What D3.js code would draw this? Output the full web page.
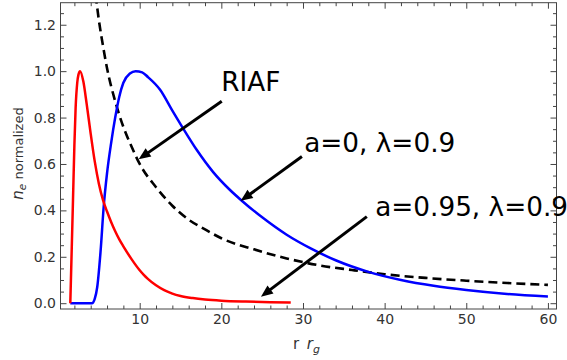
<!DOCTYPE html>
<html>
<head>
<meta charset="utf-8">
<script src="https://cdn.jsdelivr.net/npm/d3@7"></script>
<style>
  body { margin: 0; background: #fff; }
  svg { display: block; }
</style>
</head>
<body>
<div id="chart"></div>
<script>
// electron density profiles, n_e normalized to peak, vs radius in r_g
const riafR  = [4.6, 5.0, 5.5, 6.0, 7.0, 8.0, 9.0, 10, 12, 14, 16, 18, 20, 24, 28, 32, 36, 40, 45, 50, 55, 60]
const riafNe = [1.33, 1.22, 1.11, 1.013, 0.87, 0.76, 0.675, 0.60, 0.50, 0.42, 0.36, 0.318, 0.28, 0.232, 0.193, 0.163, 0.143, 0.125, 0.109, 0.097, 0.087, 0.079]

const spin0R  = [1.5, 4.15, 4.5, 4.8, 5.2, 5.6, 6.0, 6.5, 7.0, 7.5, 8.0, 8.8, 9.5, 10.3, 11, 12.5, 14, 15.2, 17, 19, 21, 22.4, 25, 28, 31, 34, 38, 42, 46, 50, 55, 60]
const spin0Ne = [0, 0, 0.02, 0.07, 0.22, 0.42, 0.56, 0.69, 0.8, 0.89, 0.95, 0.99, 1.0, 0.995, 0.975, 0.92, 0.83, 0.76, 0.66, 0.565, 0.49, 0.445, 0.37, 0.295, 0.235, 0.185, 0.135, 0.1, 0.075, 0.057, 0.04, 0.029]

const spin95R  = [1.5, 1.65, 1.83, 2.0, 2.15, 2.35, 2.5, 2.7, 3.1, 3.5, 4.0, 4.5, 5.0, 5.5, 6.0, 6.5, 7.0, 7.5, 8.0, 9.0, 10, 10.5, 11, 12, 13, 14, 15, 16.5, 18, 20, 23, 26, 28.5]
const spin95Ne = [0, 0.2, 0.445, 0.68, 0.84, 0.95, 0.985, 1.0, 0.955, 0.86, 0.73, 0.61, 0.515, 0.445, 0.395, 0.35, 0.31, 0.275, 0.245, 0.19, 0.142, 0.122, 0.105, 0.077, 0.056, 0.041, 0.031, 0.022, 0.016, 0.011, 0.007, 0.0045, 0.003]

const xMajor = [10, 20, 30, 40, 50, 60]
const yMajor = [0, 0.2, 0.4, 0.6, 0.8, 1.0, 1.2]

// callouts: label text, where the label sits, arrow tail and tip (data coords)
const callouts = [
  { text: 'RIAF',           at: [20.0, 0.913],  from: [20.05, 0.87],  to: [9.87, 0.62] },
  { text: 'a=0, λ=0.9',     at: [30.15, 0.653], from: [29.87, 0.632], to: [22.37, 0.441] },
  { text: 'a=0.95, λ=0.9',  at: [38.84, 0.376], from: [37.82, 0.373], to: [24.85, 0.028] }
]

const width = 567, height = 360
const font = '"DejaVu Sans", sans-serif'

const x = d3.scaleLinear().domain([0.3, 61.05]).range([60.5, 556.5])
const y = d3.scaleLinear().domain([-0.025, 1.295]).range([309, 2.7])

const [x0, x1] = x.range()
const [y0, y1] = y.range()

const svg = d3.select('#chart').append('svg')
  .attr('width', width)
  .attr('height', height)

svg.append('defs').append('clipPath').attr('id', 'plotClip')
  .append('rect')
    .attr('x', x0).attr('y', y1)
    .attr('width', x1 - x0).attr('height', y0 - y1)

// ticks all point inward, labels only on bottom and left
const xMinor = d3.range(2, 61, 2).filter(d => d % 10 !== 0)
const yMinor = d3.range(0, 1.26, 0.05).filter(d => Math.abs(d * 5 - Math.round(d * 5)) > 1e-6)

function styleAxis(g) {
  g.select('.domain').remove()
  g.selectAll('line').attr('stroke', '#444')
  g.selectAll('text')
    .attr('font-family', font)
    .attr('font-size', 14)
    .attr('fill', '#333')
}

svg.append('g').attr('transform', `translate(0,${y0})`)
  .call(d3.axisBottom(x).tickValues(xMajor).tickSize(-6).tickPadding(5).tickFormat(d3.format('d')))
  .call(styleAxis)
svg.append('g').attr('transform', `translate(0,${y0})`)
  .call(d3.axisBottom(x).tickValues(xMinor).tickSize(-3.5).tickFormat(''))
  .call(styleAxis)
svg.append('g').attr('transform', `translate(0,${y1})`)
  .call(d3.axisTop(x).tickValues(xMajor).tickSize(-6).tickFormat(''))
  .call(styleAxis)
svg.append('g').attr('transform', `translate(0,${y1})`)
  .call(d3.axisTop(x).tickValues(xMinor).tickSize(-3.5).tickFormat(''))
  .call(styleAxis)

svg.append('g').attr('transform', `translate(${x0},0)`)
  .call(d3.axisLeft(y).tickValues(yMajor).tickSize(-6).tickPadding(4.5).tickFormat(d3.format('.1f')))
  .call(styleAxis)
svg.append('g').attr('transform', `translate(${x0},0)`)
  .call(d3.axisLeft(y).tickValues(yMinor).tickSize(-3.5).tickFormat(''))
  .call(styleAxis)
svg.append('g').attr('transform', `translate(${x1},0)`)
  .call(d3.axisRight(y).tickValues(yMajor).tickSize(-6).tickFormat(''))
  .call(styleAxis)
svg.append('g').attr('transform', `translate(${x1},0)`)
  .call(d3.axisRight(y).tickValues(yMinor).tickSize(-3.5).tickFormat(''))
  .call(styleAxis)

// frame
svg.append('rect')
  .attr('x', x0).attr('y', y1)
  .attr('width', x1 - x0).attr('height', y0 - y1)
  .attr('fill', 'none')
  .attr('stroke', '#444')
  .attr('stroke-width', 1)

// curves
const line = d3.line()
  .x(d => x(d[0]))
  .y(d => y(d[1]))
  .curve(d3.curveMonotoneX)

const curves = svg.append('g').attr('clip-path', 'url(#plotClip)')

curves.append('path')
  .attr('d', line(d3.zip(riafR, riafNe)))
  .attr('fill', 'none')
  .attr('stroke', '#000')
  .attr('stroke-width', 2.6)
  .attr('stroke-dasharray', '9,5')

curves.append('path')
  .attr('d', line(d3.zip(spin0R, spin0Ne)))
  .attr('fill', 'none')
  .attr('stroke', '#0000ff')
  .attr('stroke-width', 2.5)

curves.append('path')
  .attr('d', line(d3.zip(spin95R, spin95Ne)))
  .attr('fill', 'none')
  .attr('stroke', '#ff0000')
  .attr('stroke-width', 2.5)

// callout arrows and labels
const notes = svg.append('g')

callouts.forEach(c => {
  const tx = x(c.from[0]), ty = y(c.from[1])
  const hx = x(c.to[0]), hy = y(c.to[1])
  const len = Math.hypot(hx - tx, hy - ty)
  const ux = (hx - tx) / len, uy = (hy - ty) / len
  const headLen = 12, headHalf = 5

  notes.append('line')
    .attr('x1', tx).attr('y1', ty)
    .attr('x2', hx - ux * (headLen - 2)).attr('y2', hy - uy * (headLen - 2))
    .attr('stroke', '#000')
    .attr('stroke-width', 3)

  const bx = hx - ux * headLen, by = hy - uy * headLen
  notes.append('path')
    .attr('d', `M${hx},${hy}L${bx - uy * headHalf},${by + ux * headHalf}L${bx + uy * headHalf},${by - ux * headHalf}Z`)
    .attr('fill', '#000')

  notes.append('text')
    .attr('x', x(c.at[0]))
    .attr('y', y(c.at[1]))
    .attr('font-family', font)
    .attr('font-size', 26.3)
    .attr('fill', '#000')
    .text(c.text)
})

// axis titles
const xTitle = svg.append('text')
  .attr('x', 306.5)
  .attr('y', 349)
  .attr('text-anchor', 'middle')
  .attr('font-family', font)
  .attr('font-size', 15)
  .attr('fill', '#333')
xTitle.append('tspan').text('r\u2002')
xTitle.append('tspan').attr('font-style', 'italic').text('r')
xTitle.append('tspan').attr('font-style', 'italic').attr('font-size', 11).attr('dy', 4).text('g')

const yTitle = svg.append('text')
  .attr('transform', 'translate(23,153.5) rotate(-90)')
  .attr('text-anchor', 'middle')
  .attr('font-family', font)
  .attr('font-size', 13)
  .attr('fill', '#333')
yTitle.append('tspan').attr('font-style', 'italic').attr('font-size', 15).text('n')
yTitle.append('tspan').attr('font-style', 'italic').attr('font-size', 10.5).attr('dy', 3).text('e')
yTitle.append('tspan').attr('dy', -3).text(' normalized')
</script>
</body>
</html>
